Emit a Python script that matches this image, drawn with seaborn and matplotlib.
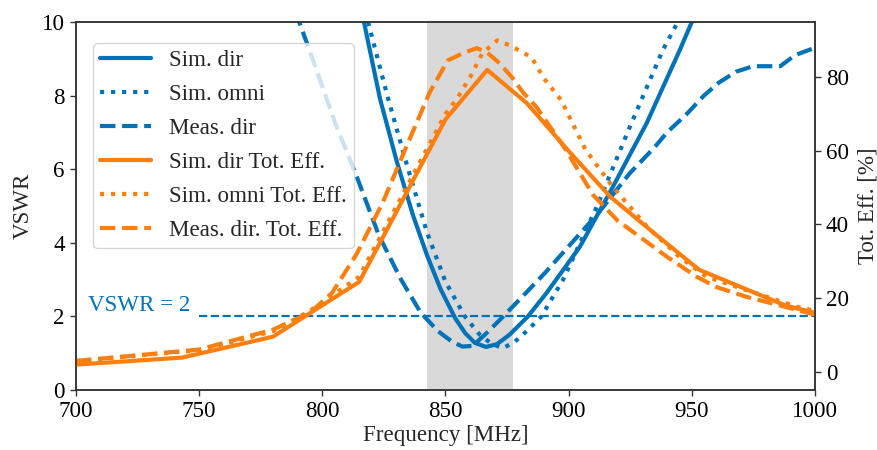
import matplotlib
matplotlib.use('Agg')
import matplotlib.pyplot as plt
import seaborn as sns

# ---------------- data ----------------
# VSWR, simulated directional
freq_sim_dir = [816, 823.4, 830.3, 836.8, 842.5, 848, 854, 858, 862, 866.5, 871, 876,
                883.5, 891, 904.6, 918, 931.8, 945.2, 952]
vswr_sim_dir = [10.3, 7.93, 6.2, 4.76, 3.67, 2.75, 1.95, 1.55, 1.28, 1.17, 1.25, 1.5,
                2.0, 2.63, 3.89, 5.52, 7.26, 9.24, 10.3]

# VSWR, simulated omni
freq_sim_omni = [818.6, 826.7, 834.4, 842.5, 850, 857.9, 864, 869, 873.4, 878, 883,
                 889, 897.8, 911.5, 924.9, 938.3, 944.4, 947]
vswr_sim_omni = [10.0, 7.93, 6.11, 4.29, 2.95, 2.0, 1.5, 1.25, 1.14, 1.3, 1.6,
                 2.0, 3.0, 4.98, 7.15, 9.24, 10.0, 10.4]

# VSWR, measured directional
freq_meas_dir = [789, 795, 805, 814, 823, 832, 840, 847, 853, 857, 861, 866, 872, 880,
                 890, 900, 912, 925, 935, 940, 948, 955, 961, 968, 975, 981, 986, 992, 1000]
vswr_meas_dir = [10.3, 9.2, 7.3, 5.8, 4.2, 3.0, 2.1, 1.6, 1.3, 1.18, 1.2, 1.5, 1.9, 2.45,
                 3.15, 3.9, 4.8, 5.9, 6.6, 7.0, 7.5, 8.0, 8.35, 8.65, 8.8, 8.8, 8.8, 9.1, 9.3]

# Total efficiency [%], simulated directional
freq_eff_sim_dir = [700, 743, 780, 815, 850, 867, 883, 900, 917, 935, 953, 988, 1000]
eff_sim_dir = [1.9, 3.8, 9.5, 24.4, 68.5, 82, 73, 60, 47.5, 37.5, 27.7, 18, 16]

# Total efficiency [%], simulated omni
freq_eff_sim_omni = [700, 750, 780, 795, 815, 850, 855, 860, 865, 871, 876, 880, 885,
                     890, 897, 907, 918, 932, 945, 956, 972, 993, 1000]
eff_sim_omni = [2.9, 5.8, 11, 16.5, 25.8, 70, 74.5, 80, 86.5, 90, 88.7, 87.3, 85.4,
                79.7, 73.8, 60.2, 50.2, 39.3, 31.2, 25.8, 22.2, 17.6, 16.5]

# Total efficiency [%], measured directional
freq_eff_meas_dir = [700, 750, 780, 795, 804, 814, 824.6, 832.8, 843.7, 851, 858, 862.8,
                     866.8, 872, 877.4, 881.5, 887, 899, 910, 920, 929, 940, 952, 960,
                     972.4, 984.6, 1000]
eff_meas_dir = [2.9, 6.0, 11.4, 16, 21.4, 32, 46, 59, 76, 84.6, 86.8, 87.9,
                86.8, 83.8, 79.7, 75.9, 71.9, 60.2, 48, 41, 36.6, 31.2, 25.8, 23,
                20.3, 18.2, 15.5]

band = (842.5, 877.5)          # shaded operating band [MHz]
vswr_limit = 2                  # reference VSWR level
vswr_limit_start = 750          # where the reference line starts [MHz]

labels = ["Sim. dir", "Sim. omni", "Meas. dir",
          "Sim. dir Tot. Eff.", "Sim. omni Tot. Eff.", "Meas. dir. Tot. Eff."]
xticks = [700, 750, 800, 850, 900, 950, 1000]
yticks_left = [0, 2, 4, 6, 8, 10]
yticks_right = [0, 20, 40, 60, 80]

# ---------------- style ----------------
FS = 16.6
sns.set_theme(style='ticks')
plt.rcParams['font.family'] = ['Liberation Serif', 'DejaVu Serif']
plt.rcParams.update({
    'font.size': FS,
    'axes.labelsize': FS,
    'xtick.labelsize': FS,
    'ytick.labelsize': FS,
    'axes.linewidth': 1.1,
    'axes.edgecolor': '#333333',
    'xtick.major.size': 4.5,
    'ytick.major.size': 4.5,
    'xtick.major.width': 1.0,
    'ytick.major.width': 1.0,
    'xtick.color': '#333333',
    'ytick.color': '#333333',
    'xtick.labelcolor': 'black',
    'ytick.labelcolor': 'black',
})

BLUE = '#0072B8'
ORANGE = '#FF7F0E'
LW = 3.0

fig, ax = plt.subplots(figsize=(8.77, 4.5), dpi=100)
fig.subplots_adjust(left=0.0867, right=0.929, bottom=0.1333, top=0.951)
ax2 = ax.twinx()

ax.axvspan(band[0], band[1], color='#d9d9d9', lw=0, zorder=0)

sns.lineplot(x=freq_sim_dir, y=vswr_sim_dir, ax=ax, color=BLUE, lw=LW,
             linestyle='-', label=labels[0], legend=False)
sns.lineplot(x=freq_sim_omni, y=vswr_sim_omni, ax=ax, color=BLUE, lw=LW,
             linestyle=':', label=labels[1], legend=False)
sns.lineplot(x=freq_meas_dir, y=vswr_meas_dir, ax=ax, color=BLUE, lw=LW,
             linestyle='--', label=labels[2], legend=False)

ax.hlines(vswr_limit, vswr_limit_start, xticks[-1], colors=BLUE, linestyles='--', lw=1.6)
ax.text(705, vswr_limit + 0.15, f"VSWR = {vswr_limit}", color=BLUE, fontsize=FS,
        ha='left', va='baseline')

sns.lineplot(x=freq_eff_sim_dir, y=eff_sim_dir, ax=ax2, color=ORANGE, lw=LW,
             linestyle='-', label=labels[3], legend=False)
sns.lineplot(x=freq_eff_sim_omni, y=eff_sim_omni, ax=ax2, color=ORANGE, lw=LW,
             linestyle=':', label=labels[4], legend=False)
sns.lineplot(x=freq_eff_meas_dir, y=eff_meas_dir, ax=ax2, color=ORANGE, lw=LW,
             linestyle='--', label=labels[5], legend=False)

ax.set_xlim(xticks[0], xticks[-1])
ax.set_ylim(0, 10)
ax2.set_ylim(-5, 95)
ax.set_xticks(xticks)
ax.set_yticks(yticks_left)
ax2.set_yticks(yticks_right)
ax.set_xlabel("Frequency [MHz]", labelpad=2)
ax.set_ylabel("VSWR", labelpad=6)
ax2.set_ylabel("Tot. Eff. [%]", labelpad=6)

for a in (ax, ax2):
    for s in a.spines.values():
        s.set_visible(True)
        s.set_color('#333333')

h1, l1 = ax.get_legend_handles_labels()
h2, l2 = ax2.get_legend_handles_labels()
if ax.get_legend() is not None:
    ax.get_legend().remove()
leg = ax2.legend(h1 + h2, l1 + l2, loc='upper left', bbox_to_anchor=(0.023, 0.943),
                 borderaxespad=0, borderpad=0.3, handlelength=2.2, handletextpad=0.8,
                 labelspacing=0.56, fontsize=FS, framealpha=0.8, edgecolor='0.8',
                 fancybox=True)

fig.savefig('out.png', dpi=100)
